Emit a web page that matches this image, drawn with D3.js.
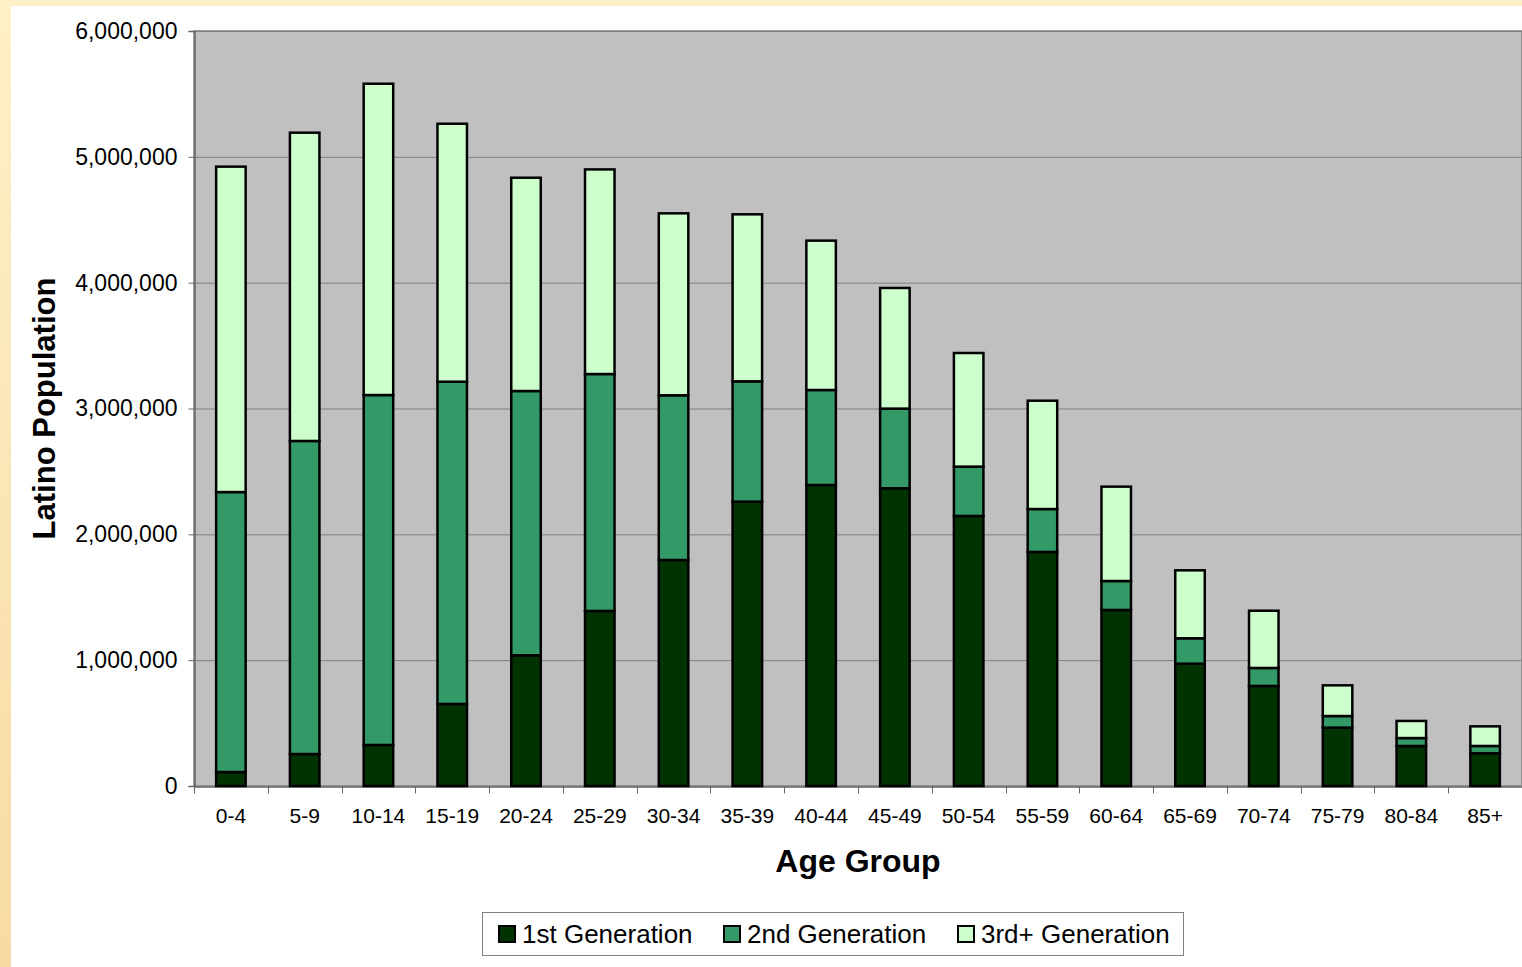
<!DOCTYPE html>
<html>
<head>
<meta charset="utf-8">
<script src="https://cdn.jsdelivr.net/npm/d3@7"></script>
<style>
  html, body { margin: 0; padding: 0; }
  body { background: linear-gradient(#fff0c8, #f6dba3); width: 1522px; height: 967px; overflow: hidden; }
  svg { display: block; font-family: "Liberation Sans", Arial, sans-serif; }
</style>
</head>
<body>
<svg width="1522" height="967"></svg>
<script>
// latino population by age group and generation
var ageGroups = ["0-4", "5-9", "10-14", "15-19", "20-24", "25-29", "30-34", "35-39", "40-44",
                 "45-49", "50-54", "55-59", "60-64", "65-69", "70-74", "75-79", "80-84", "85+"];

var firstGen = [111000, 254000, 326000, 652000, 1039000, 1391000, 1796000, 2260000, 2392000,
                2366000, 2146000, 1860000, 1399000, 972000, 795000, 464000, 318000, 260000];

var secondGen = [2225000, 2488000, 2781000, 2561000, 2100000, 1883000, 1309000, 956000, 755000,
                 633000, 392000, 341000, 230000, 202000, 143000, 92000, 63000, 58000];

var thirdGen = [2586000, 2450000, 2474000, 2050000, 1695000, 1626000, 1446000, 1327000, 1187000,
                959000, 903000, 861000, 750000, 540000, 455000, 244000, 136000, 156000];

var seriesNames = ["1st Generation", "2nd Generation", "3rd+ Generation"];
var yTicks = [0, 1000000, 2000000, 3000000, 4000000, 5000000, 6000000];

var svg = d3.select("svg"),
    width = +svg.attr("width"),
    height = +svg.attr("height");

var plot = { left: 194, top: 31, right: 1522, bottom: 786 };

// white page on the cream frame
svg.append("rect")
    .attr("x", 11).attr("y", 6)
    .attr("width", width - 11).attr("height", height - 6)
    .attr("fill", "#ffffff");

var data = ageGroups.map(function(a, i) {
  return { age: a, "1st Generation": firstGen[i], "2nd Generation": secondGen[i], "3rd+ Generation": thirdGen[i] };
});

var x = d3.scaleBand()
    .domain(ageGroups)
    .range([plot.left, plot.right])
    .paddingInner(0.6)
    .paddingOuter(0.3);

var y = d3.scaleLinear()
    .domain([0, 6000000])
    .range([plot.bottom, plot.top]);

var color = d3.scaleOrdinal()
    .domain(seriesNames)
    .range(["#003300", "#339966", "#ccffcc"]);

// plot background
svg.append("rect")
    .attr("x", plot.left).attr("y", plot.top)
    .attr("width", plot.right - plot.left).attr("height", plot.bottom - plot.top)
    .attr("fill", "#c0c0c0")
    .attr("stroke", "#808080")
    .attr("stroke-width", 1.5);

// gridlines
svg.append("g")
    .selectAll("line")
    .data(yTicks.slice(1))
    .enter().append("line")
      .attr("x1", plot.left).attr("x2", plot.right)
      .attr("y1", function(d) { return y(d) + 0.5; })
      .attr("y2", function(d) { return y(d) + 0.5; })
      .attr("stroke", "#808080")
      .attr("stroke-width", 1);

// y axis
var yAxis = svg.append("g")
    .attr("transform", "translate(" + (plot.left + 0.5) + ",0)")
    .call(d3.axisLeft(y).tickValues(yTicks).tickFormat(d3.format(",")).tickSizeOuter(0).tickSize(6).tickPadding(11));

yAxis.select(".domain").attr("stroke", "#666666").attr("stroke-width", 1.5);
yAxis.selectAll(".tick line").attr("stroke", "#666666");
yAxis.selectAll("text")
    .attr("font-size", 23)
    .attr("font-family", "Liberation Sans, Arial, sans-serif")
    .attr("fill", "#000");

// x axis: labels centered, ticks between categories
var xAxis = svg.append("g")
    .attr("transform", "translate(0," + (plot.bottom + 0.5) + ")")
    .call(d3.axisBottom(x).tickSize(0).tickPadding(22));

xAxis.select(".domain").attr("stroke", "#666666").attr("stroke-width", 1.5);
xAxis.selectAll("text")
    .attr("font-size", 21)
    .attr("font-family", "Liberation Sans, Arial, sans-serif")
    .attr("fill", "#000");

xAxis.selectAll(".sep")
    .data(ageGroups)
    .enter().append("line")
      .attr("class", "sep")
      .attr("x1", function(d) { return Math.round(x(d) - x.step() * 0.3) + 0.5; })
      .attr("x2", function(d) { return Math.round(x(d) - x.step() * 0.3) + 0.5; })
      .attr("y1", 0).attr("y2", 7)
      .attr("stroke", "#666666");

// stacked bars
var stack = d3.stack().keys(seriesNames);

var layer = svg.append("g")
    .selectAll("g")
    .data(stack(data))
    .enter().append("g")
      .attr("fill", function(d) { return color(d.key); });

layer.selectAll("rect")
    .data(function(d) { return d; })
    .enter().append("rect")
      .attr("x", function(d) { return x(d.data.age); })
      .attr("y", function(d) { return y(d[1]); })
      .attr("width", x.bandwidth())
      .attr("height", function(d) { return y(d[0]) - y(d[1]); })
      .attr("stroke", "#000")
      .attr("stroke-width", 2.5);

// axis titles
svg.append("text")
    .attr("x", (plot.left + plot.right) / 2)
    .attr("y", 872)
    .attr("text-anchor", "middle")
    .attr("font-size", 32)
    .attr("font-weight", "bold")
    .text("Age Group");

svg.append("text")
    .attr("transform", "translate(55," + (plot.top + plot.bottom) / 2 + ") rotate(-90)")
    .attr("text-anchor", "middle")
    .attr("font-size", 31)
    .attr("font-weight", "bold")
    .text("Latino Population");

// legend
var legend = svg.append("g").attr("transform", "translate(482,912)");

legend.append("rect")
    .attr("x", 0.5).attr("y", 0.5)
    .attr("width", 701).attr("height", 43)
    .attr("fill", "#fff")
    .attr("stroke", "#808080")
    .attr("stroke-width", 1);

var legendX = [17, 242, 476];

var item = legend.selectAll(".item")
    .data(seriesNames)
    .enter().append("g")
      .attr("class", "item")
      .attr("transform", function(d, i) { return "translate(" + legendX[i] + ",0)"; });

item.append("rect")
    .attr("x", 0).attr("y", 14)
    .attr("width", 16).attr("height", 16)
    .attr("fill", function(d) { return color(d); })
    .attr("stroke", "#000")
    .attr("stroke-width", 2);

item.append("text")
    .attr("x", 23)
    .attr("y", 31)
    .attr("font-size", 26)
    .text(function(d) { return d; });
</script>
</body>
</html>
